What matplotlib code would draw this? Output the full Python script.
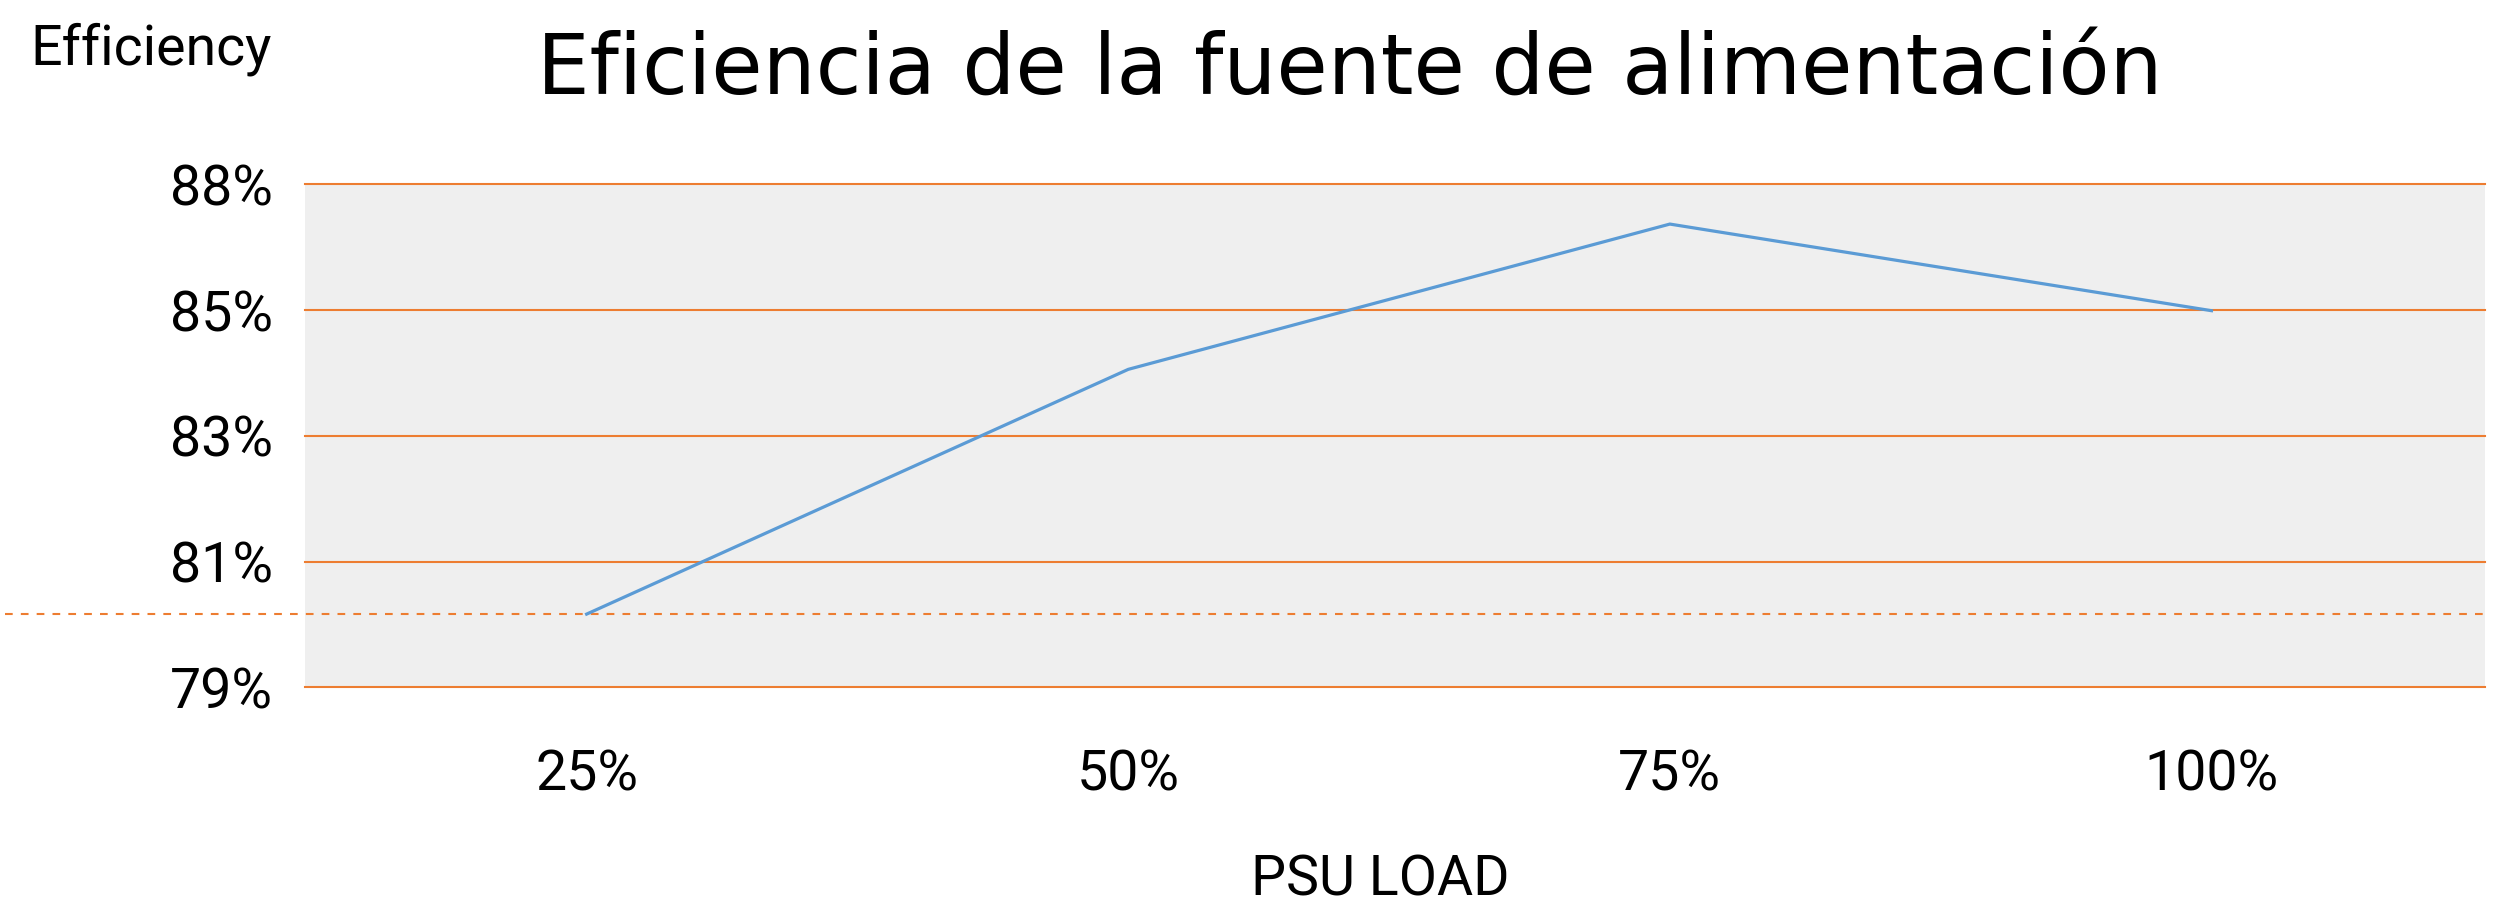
import matplotlib
matplotlib.use("Agg")
import matplotlib.pyplot as plt
import numpy as np

# Data
loads = ["25%", "50%", "75%", "100%"]
efficiency = [80.31, 84.69, 87.29, 85.74]
ytick_labels = ["79%", "81%", "83%", "85%", "88%"]
ref_level = 80.31

title = "Eficiencia de la fuente de alimentación"
ylabel = "Efficiency"
xlabel = "PSU LOAD"

W, H, DPI = 2511, 907, 100
fig = plt.figure(figsize=(W / DPI, H / DPI), dpi=DPI)
ax = fig.add_axes([305 / W, 1 - 687.3 / H, (2485 - 305) / W, (687.3 - 184.4) / H])

orange = "#ED7D31"
blue = "#5B9BD5"
ax.set_facecolor("#EFEFEF")

x = np.arange(len(loads))
ax.plot(x, efficiency, color=blue, lw=2.3, solid_joinstyle="miter", zorder=3)

ax.set_xlim(-0.52, 3.505)
ax.set_ylim(79, 88)
yt = np.linspace(79, 88, len(ytick_labels))
ax.set_yticks(yt)
ax.set_yticklabels(ytick_labels, fontsize=40, fontfamily="Roboto")
ax.set_xticks(x)
ax.set_xticklabels(loads, fontsize=40, fontfamily="Roboto")
ax.tick_params(axis="both", length=0)
ax.tick_params(axis="y", pad=23)
ax.tick_params(axis="x", pad=44)

for s in ax.spines.values():
    s.set_visible(False)

for yv in yt:
    ax.axhline(yv, color=orange, lw=1.5, zorder=1, clip_on=False)

ax.axhline(ref_level, xmin=-300 / 2180, xmax=1.0, color=orange, lw=1.5,
           ls=(0, (3.7, 3.9)), clip_on=False, zorder=2)

fig.text(30 / W, 1 - 65 / H, ylabel, fontsize=40, fontfamily="Roboto",
         ha="left", va="baseline")
fig.text(1350 / W, 1 - 94 / H, title, fontsize=60, fontfamily="DejaVu Sans",
         ha="center", va="baseline")
fig.text(1380 / W, 1 - 896 / H, xlabel, fontsize=40, fontfamily="Roboto",
         ha="center", va="baseline")

fig.savefig("out.png", dpi=DPI)
